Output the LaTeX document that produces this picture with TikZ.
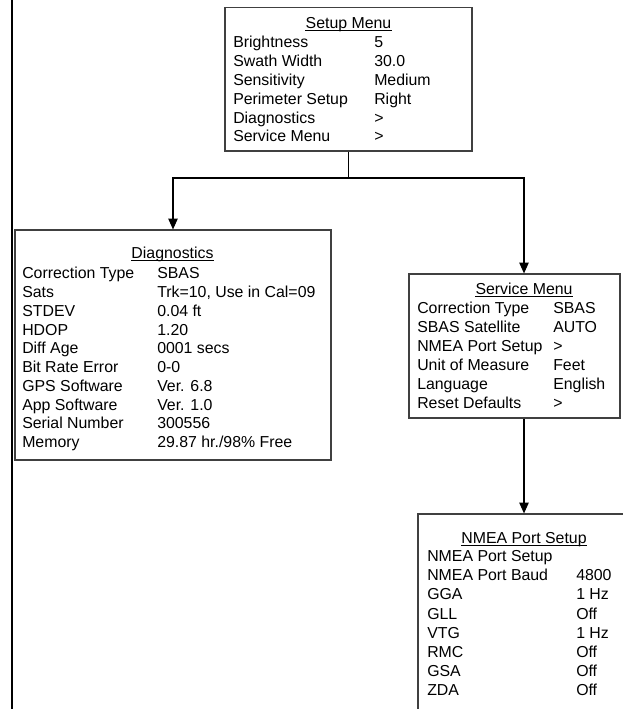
\documentclass[tikz,border=0pt]{standalone}
\usepackage{fontspec}
\setmainfont{Liberation Sans}
\usetikzlibrary{arrows.meta,fit}

\begin{document}
\begin{tikzpicture}[x=0.75pt,y=-0.75pt,
    menubox/.style={draw=black!75,line width=0.9pt,inner sep=0pt},
    txt/.style={inner sep=0pt,anchor=base west,font=\fontsize{11.9pt}{14pt}\selectfont},
    ttl/.style={txt,anchor=base},
    link/.style={line width=0.8pt},
    arr/.style={link,-{Triangle[width=7pt,length=8pt]}}]
	\useasboundingbox (0,0) rectangle (622,709);
	\draw[line width=1.5pt] (12,0) -- (12,709);

	% boxes
	\node[menubox,fit={(225,7.5) (472,151)}] (setup) {};
	\node[menubox,fit={(15,230) (331,460)}] (diag) {};
	\node[menubox,fit={(409,274) (620,418)}] (service) {};
	\node[menubox,fit={(418,514) (630,740)}] (nmea) {};

	% setup menu
	\node[ttl] (setuptitle) at (348.5,28.7) {Setup Menu};
	\foreach \lab/\val [count=\i] in {Brightness/5, Swath Width/30.0, Sensitivity/Medium,
	    Perimeter Setup/Right, Diagnostics/>, Service Menu/>}{
		\node[txt] (sl\i) at (233,{47.7+18.85*(\i-1)}) {\lab};
		\node[txt] (sv\i) at (374,{47.7+18.85*(\i-1)}) {\val};
	}

	% diagnostics
	\node[ttl] (diagtitle) at (172.5,258.7) {Diagnostics};
	\foreach \lab/\val [count=\i] in {Correction Type/SBAS, Sats/{Trk=10, Use in Cal=09},
	    STDEV/0.04 ft, HDOP/1.20, Diff Age/0001 secs, Bit Rate Error/0-0,
	    GPS Software/Ver. 6.8, App Software/Ver. 1.0, Serial Number/300556,
	    Memory/{29.87 hr./98\% Free}}{
		\node[txt] (dl\i) at (22,{278.7+18.78*(\i-1)}) {\lab};
		\node[txt] (dv\i) at (157,{278.7+18.78*(\i-1)}) {\val};
	}

	% service menu
	\node[ttl] (servtitle) at (524,294.7) {Service Menu};
	\foreach \lab/\val [count=\i] in {Correction Type/SBAS, SBAS Satellite/AUTO,
	    NMEA Port Setup/>, Unit of Measure/Feet, Language/English, Reset Defaults/>}{
		\node[txt] (vl\i) at (417,{313.7+19*(\i-1)}) {\lab};
		\node[txt] (vv\i) at (553,{313.7+19*(\i-1)}) {\val};
	}

	% nmea port setup
	\node[ttl] (nmeatitle) at (524,543.7) {NMEA Port Setup};
	\foreach \lab/\val [count=\i] in {NMEA Port Setup/{}, NMEA Port Baud/4800, GGA/1 Hz,
	    GLL/Off, VTG/1 Hz, RMC/Off, GSA/Off, ZDA/Off}{
		\node[txt] (nl\i) at (427,{561.7+19.14*(\i-1)}) {\lab};
		\node[txt] (nv\i) at (576,{561.7+19.14*(\i-1)}) {\val};
	}

	% underlined titles
	\foreach \t in {setuptitle,diagtitle,servtitle,nmeatitle}
		\draw[line width=0.6pt] ([yshift=-1.6pt]\t.base west) -- ([yshift=-1.6pt]\t.base east);

	% connectors
	\coordinate (fork) at (348.5,178);
	\draw[link] (setup.south) -- (fork);
	\draw[arr] (fork) -| (diag.north);
	\draw[arr] (fork) -| (service.north -| servtitle.center);
	\draw[arr] (nmea.north |- service.south) -- (nmea.north);
\end{tikzpicture}
\end{document}
